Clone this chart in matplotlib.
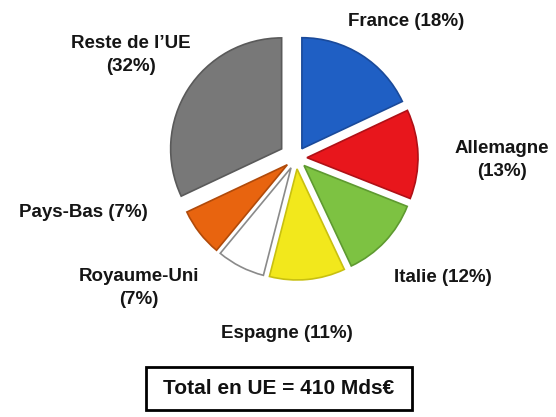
import matplotlib
matplotlib.use("Agg")
import matplotlib.pyplot as plt
from matplotlib.patches import Rectangle

plt.rcParams['font.family'] = ['Liberation Sans', 'DejaVu Sans']

categories = ["France", "Allemagne", "Italie", "Espagne", "Royaume-Uni", "Pays-Bas", "Reste de l'UE"]
shares = [18, 13, 12, 11, 7, 7, 32]
label_texts = ["France (18%)", "Allemagne\n(13%)", "Italie (12%)", "Espagne (11%)",
               "Royaume-Uni\n(7%)", "Pays-Bas (7%)", "Reste de l\u2019UE\n(32%)"]
colors = ["#1f5fc4", "#e8161c", "#7dc242", "#f2e81c", "#ffffff", "#e8640f", "#787878"]
edges = ["#1a4a9a", "#b01016", "#5e9a30", "#c8c010", "#8a8a8a", "#b04a0a", "#5a5a5a"]
total_text = "Total en UE = 410 Mds\u20ac"

W, H = 556, 417
fig = plt.figure(figsize=(W / 100, H / 100), dpi=100)
ax = fig.add_axes([0, 0, 1, 1])

cx, cy = 296, H - 158
R = 111
explode_px = [11, 11, 11, 11, 11, 11, 17]
wedges, _ = ax.pie(shares, colors=colors, startangle=90, counterclock=False,
                   explode=explode_px, center=(cx, cy), radius=R,
                   wedgeprops=dict(linewidth=1.2))
for w, e in zip(wedges, edges):
    w.set_edgecolor(e)
ax.set_xlim(0, W)
ax.set_ylim(0, H)
ax.set_aspect('equal')
ax.axis('off')

label_pos = [(406, 21), (502, 160), (443, 277), (287, 333), (139, 288), (83, 212), (131, 55)]
for txt, (x, y) in zip(label_texts, label_pos):
    ax.text(x, H - y, txt, ha='center', va='center', fontsize=13.5, fontweight='bold',
            color='#151515', linespacing=1.45)

ax.add_patch(Rectangle((146, H - 410), 266, 43, fill=False, edgecolor='black', linewidth=2))
ax.text(279, H - 389, total_text, ha='center', va='center', fontsize=15,
        fontweight='bold', color='#111111')

fig.savefig("out.png", dpi=100)
